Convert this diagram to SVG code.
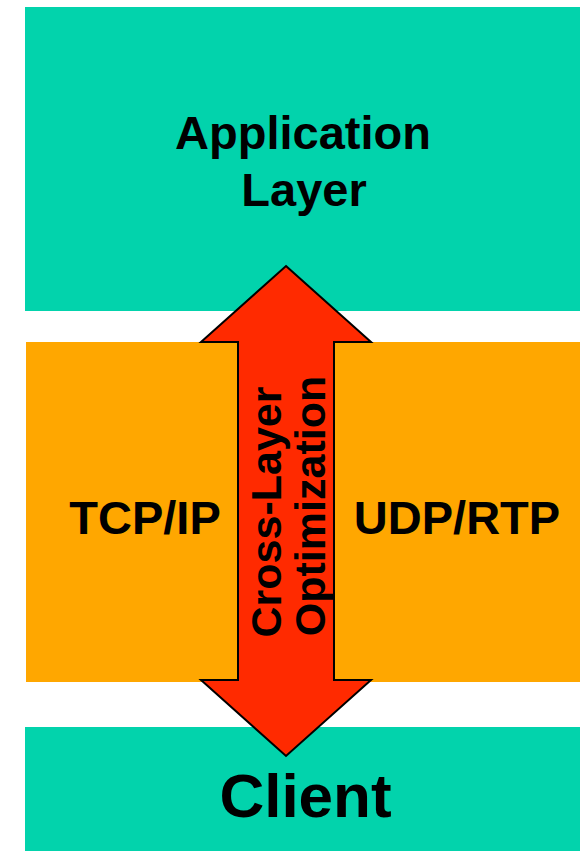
<svg xmlns="http://www.w3.org/2000/svg" width="580" height="851" viewBox="0 0 580 851">
<style>
.t{font-family:"Liberation Sans",Arial,sans-serif;font-weight:bold;fill:#000;text-anchor:middle}
.teal{fill:#02D3AC}
.orange{fill:#FFA700}
</style>
<rect width="580" height="851" fill="#fff"/>
<g id="application-layer">
<rect class="teal" x="25" y="7" width="555" height="304"/>
<text class="t" x="303" y="149" font-size="47">Application</text>
<text class="t" x="304" y="206" font-size="47">Layer</text>
</g>
<g id="transport">
<rect class="orange" x="26" y="342" width="554" height="340"/>
<text class="t" x="145" y="534" font-size="47">TCP/IP</text>
<text class="t" x="457" y="534" font-size="47">UDP/RTP</text>
</g>
<g id="client">
<rect class="teal" x="25" y="727" width="555" height="124"/>
<text class="t" x="305.5" y="817" font-size="62">Client</text>
</g>
<g id="connectors">
<g id="cross-layer-arrow">
<polygon points="286,266 371,342 334,342 334,680 371,680 286,756 201,680 238,680 238,342 201,342" fill="#FF2A00" stroke="#000" stroke-width="2" stroke-linejoin="miter"/>
<text class="t" font-size="43" transform="translate(281,512) rotate(-90)" x="0" y="0">Cross-Layer</text>
<text class="t" font-size="43" transform="translate(325,506) rotate(-90)" x="0" y="0">Optimization</text>
</g>
</g>
</svg>
